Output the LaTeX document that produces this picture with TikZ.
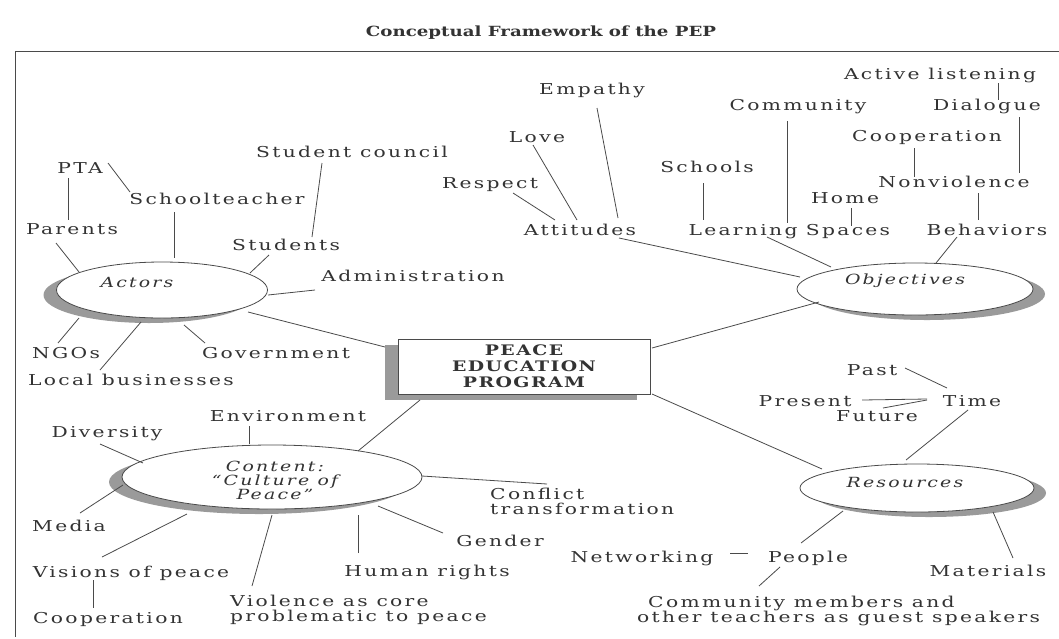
\documentclass[tikz,border=0pt]{standalone}
\usepackage{fontspec}
\setmainfont{DejaVu Serif}[FakeStretch=1.35,LetterSpace=15.5]
\newfontfamily\titlefont{DejaVu Serif}[FakeStretch=1.3]
\newfontfamily\boxfont{DejaVu Serif}[FakeStretch=1.3,LetterSpace=10]
\usetikzlibrary{calc,shapes.geometric,shadows}
\definecolor{ln}{HTML}{4A4A4A}
\definecolor{txt}{HTML}{333333}
\definecolor{shd}{HTML}{9A9A9A}
\begin{document}
\begin{tikzpicture}[x=1pt,y=-1pt,
  lbl/.style={inner sep=0pt, text=txt, font=\fontsize{15}{15}\selectfont, text height=11pt, text depth=0pt},
  ml/.style={inner sep=0pt, text=txt, font=\fontsize{15}{15}\selectfont, align=left, anchor=west},
  eltxt/.style={inner sep=0pt, text=txt, font=\fontsize{14}{14}\selectfont\itshape, align=center},
  conn/.style={draw=ln, line width=0.8pt},
  ellbase/.style={ellipse, draw=ln, line width=0.8pt, fill=white, inner sep=0pt},
  ellL/.style={ellbase, drop shadow={shadow xshift=-13pt, shadow yshift=-5pt, fill=shd, opacity=1}},
  ellR/.style={ellbase, drop shadow={shadow xshift=12pt, shadow yshift=-5pt, fill=shd, opacity=1}},
  pbox/.style={draw=ln, line width=0.8pt, fill=white, minimum width=252pt, minimum height=55pt, inner sep=0pt, align=center, text=txt, font=\boxfont\fontsize{14.5}{16}\selectfont\bfseries, drop shadow={shadow xshift=-13pt, shadow yshift=-6pt, fill=shd, opacity=1}},
  ttl/.style={inner sep=0pt, text=txt, font=\titlefont\fontsize{14}{16}\selectfont\bfseries}
]
\fill[white] (0,0) rectangle (1059,638);
\useasboundingbox (0,0) rectangle (1059,638);

% title and frame
\node[ttl] (title) at (541,33) {Conceptual Framework of the PEP};
\draw[ln, line width=0.8pt] (1059,51) -- (15,51) -- (15,637);

% centre box
\node[pbox] (pep) at (524,366.5) {PEACE\\EDUCATION\\PROGRAM};

% ---------- Actors ----------
\node[ellL, minimum width=211pt, minimum height=56pt] (A) at (162,290) {};
\node[eltxt] (actors) at (137,282) {Actors};
\node[lbl] (pta) at (80,168) {PTA};
\node[lbl] (schoolteacher) at (217,199) {Schoolteacher};
\node[lbl] (stcouncil) at (352,152) {Student council};
\node[lbl] (parents) at (72,229) {Parents};
\node[lbl] (students) at (286,245) {Students};
\node[lbl] (admin) at (413,276) {Administration};
\node[lbl] (ngos) at (66,353) {NGOs};
\node[lbl] (govt) at (276,353) {Government};
\node[lbl] (localbiz) at (131,380) {Local businesses};

\draw[conn] ($(pta)+(-12,10)$) -- ($(parents)+(-4,-9)$);
\draw[conn] ($(pta)+(28,-5)$) -- ($(schoolteacher)+(-87,-7)$);
\draw[conn] ($(schoolteacher)+(-43,13)$) -- ($(A)+(12,-32)$);
\draw[conn] ($(stcouncil)+(-30,11)$) -- ($(students)+(26,-8)$);
\draw[conn] ($(parents)+(-16,14)$) -- ($(A)+(-83,-18)$);
\draw[conn] ($(students)+(-17,10)$) -- ($(A)+(88,-17)$);
\draw[conn] ($(admin)+(-98,14)$) -- ($(A)+(106,5)$);
\draw[conn] ($(ngos)+(-8,-10)$) -- ($(A)+(-83,28)$);
\draw[conn] ($(localbiz)+(-31,-10)$) -- ($(A)+(-21,32)$);
\draw[conn] ($(govt)+(-71,-10)$) -- ($(A)+(22,35)$);
\draw[conn] ($(A)+(86,22)$) -- ($(pep)+(-139,-19.5)$);

% ---------- Objectives ----------
\node[ellR, minimum width=236pt, minimum height=52pt] (O) at (915,289) {};
\node[eltxt] (objectives) at (905,281) {Objectives};
\node[lbl] (actlisten) at (940,74) {Active listening};
\node[lbl] (empathy) at (592,89) {Empathy};
\node[lbl] (community) at (798,105) {Community};
\node[lbl] (dialogue) at (987,105) {Dialogue};
\node[lbl] (love) at (537,137) {Love};
\node[lbl] (coopA) at (927,136) {Cooperation};
\node[lbl] (schools) at (707,167) {Schools};
\node[lbl] (respect) at (490,183) {Respect};
\node[lbl] (nonviol) at (954,182) {Nonviolence};
\node[lbl] (home) at (845,198) {Home};
\node[lbl] (attitudes) at (580,230) {Attitudes};
\node[lbl] (learning) at (743,230) {Learning};
\node[lbl] (spaces) at (848,230) {Spaces};
\node[lbl] (behaviors) at (987,230) {Behaviors};

\draw[conn] ($(actlisten)+(58,9)$) -- ($(dialogue)+(11,-5)$);
\draw[conn] ($(dialogue)+(32,12)$) -- ($(nonviol)+(65,-9)$);
\draw[conn] ($(coopA)+(-13,12)$) -- ($(nonviol)+(-40,-5)$);
\draw[conn] ($(nonviol)+(24,11)$) -- ($(behaviors)+(-9,-10)$);
\draw[conn] ($(home)+(6,10)$) -- ($(spaces)+(3,-4)$);
\draw[conn] ($(community)+(-11,16)$) -- ($(learning)+(44,-7)$);
\draw[conn] ($(schools)+(-4,16)$) -- ($(learning)+(-40,-10)$);
\draw[conn] ($(respect)+(23,10)$) -- ($(attitudes)+(-25,-10)$);
\draw[conn] ($(love)+(-4,8)$) -- ($(attitudes)+(-3,-10)$);
\draw[conn] ($(empathy)+(5,19)$) -- ($(attitudes)+(38,-12)$);
\draw[conn] ($(attitudes)+(39,8)$) -- ($(O)+(-115,-12)$);
\draw[conn] ($(learning)+(24,7)$) -- ($(O)+(-84,-22)$);
\draw[conn] ($(behaviors)+(-30,7)$) -- ($(O)+(21,-26)$);
\draw[conn] ($(O)+(-96,13)$) -- ($(pep)+(128,-18.5)$);

% ---------- Content ----------
\node[ellL, minimum width=300pt, minimum height=64pt] (C) at (272,477) {};
\node[eltxt] (content) at (275,480) {Content:\\``Culture of\\Peace''};
\node[lbl] (environment) at (288,416) {Environment};
\node[lbl] (diversity) at (107,432) {Diversity};
\node[lbl] (media) at (69,526) {Media};
\node[lbl] (visions) at (131,572) {Visions of peace};
\node[lbl] (coopB) at (108,618) {Cooperation};
\node[ml] (violence) at (230,610) {Violence as core\\problematic to peace};
\node[lbl] (humanrights) at (427,571) {Human rights};
\node[lbl] (gender) at (500,541) {Gender};
\node[ml] (conflict) at (490,501) {Conflict\\transformation};

\draw[conn] ($(environment)+(-39,10)$) -- ($(C)+(-23,-33)$);
\draw[conn] ($(diversity)+(-7,12)$) -- ($(C)+(-129,-14)$);
\draw[conn] ($(media)+(11,-13)$) -- ($(C)+(-149,8)$);
\draw[conn] ($(visions)+(-29,-15)$) -- ($(C)+(-85,37)$);
\draw[conn] ($(visions)+(-38,8)$) -- ($(coopB)+(-15,-10)$);
\draw[conn] ($(violence.west)+(22,-24)$) -- ($(C)+(0,38)$);
\draw[conn] ($(humanrights)+(-69,-18)$) -- ($(C)+(86,38)$);
\draw[conn] ($(gender)+(-57,-8)$) -- ($(C)+(106,29)$);
\draw[conn] ($(conflict.west)+(57,-17)$) -- ($(C)+(150,-1)$);
\draw[conn] ($(C)+(86,-26)$) -- ($(pep)+(-104,33.5)$);

% ---------- Resources ----------
\node[ellR, minimum width=234pt, minimum height=48pt] (R) at (917,488) {};
\node[eltxt] (resources) at (905,482) {Resources};
\node[lbl] (past) at (872,370) {Past};
\node[lbl] (present) at (805,401) {Present};
\node[lbl] (time) at (972,401) {Time};
\node[lbl] (future) at (877,416) {Future};
\node[lbl] (networking) at (642,557) {Networking};
\node[lbl] (people) at (808,557) {People};
\node[lbl] (materials) at (988,571) {Materials};
\node[ml] (commem) at (637,611) {\hspace*{11pt}Community members and\\other teachers as guest speakers};

\draw[conn] ($(past)+(33,-2)$) -- ($(time)+(-25,-13)$);
\draw[conn] ($(present)+(57,-1)$) -- ($(time)+(-45,-2)$);
\draw[conn] ($(future)+(6,-8)$) -- ($(time)+(-45,-1)$);
\draw[conn] ($(time)+(-4,9)$) -- ($(R)+(-11,-28)$);
\draw[conn] ($(pep)+(128,27.5)$) -- ($(R)+(-95,-19)$);
\draw[conn] ($(networking)+(88,-4)$) -- ($(people)+(-60,-4)$);
\draw[conn] ($(people)+(-7,-14)$) -- ($(R)+(-74,23)$);
\draw[conn] ($(materials)+(25,-13)$) -- ($(R)+(76,24)$);
\draw[conn] ($(people)+(-28,10)$) -- ($(commem.west)+(122,-25)$);
\end{tikzpicture}
\end{document}
